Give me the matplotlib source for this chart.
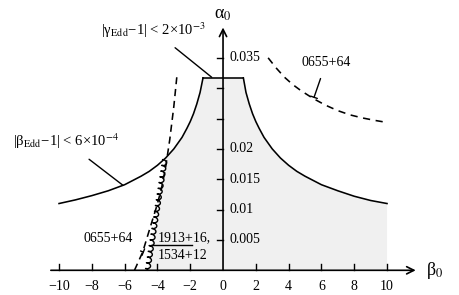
"""
alpha_0 / beta_0 plane: solar-system and binary-pulsar bounds
"""
import numpy as np
import matplotlib.pyplot as plt

plt.rcParams['font.family'] = ['Liberation Serif', 'DejaVu Serif']
plt.rcParams['mathtext.fontset'] = 'stix'

# |beta_Edd - 1| bound, left and right branches
beta_left = [-10, -9, -8, -7, -6, -5, -4.5, -4, -3.5, -3, -2.5, -2.2, -2, -1.8, -1.6, -1.4, -1.22]
alpha_left = [0.0110, 0.0116, 0.0123, 0.0131, 0.0141, 0.0155, 0.0163, 0.0173, 0.0185,
              0.0200, 0.0219, 0.0234, 0.0245, 0.0258, 0.0274, 0.0293, 0.0317]
beta_right = [1.24, 1.4, 1.6, 1.8, 2, 2.2, 2.5, 3, 3.5, 4, 4.5, 5, 6, 7, 8, 9, 10]
alpha_right = [0.0317, 0.0293, 0.0274, 0.0258, 0.0245, 0.0234, 0.0219, 0.0200, 0.0185,
               0.0173, 0.0163, 0.0155, 0.0141, 0.0131, 0.0122, 0.0115, 0.0110]

# |gamma_Edd - 1| bound (plateau)
beta_gamma = [-1.22, 1.24]
alpha_gamma = [0.0317, 0.0317]

# 0655+64 (dashed), two branches
beta_0655_left = [-5.4, -4.9, -4.45, -4.05, -3.75, -3.5, -3.25, -3.0, -2.82]
alpha_0655_left = [0.0, 0.003, 0.007, 0.0105, 0.0135, 0.017, 0.0215, 0.027, 0.0318]
beta_0655_right = [2.75, 3.25, 3.75, 4.25, 4.75, 5.5, 6.25, 7, 7.75, 8.5, 9.25, 9.9]
alpha_0655_right = [0.0350, 0.0333, 0.0318, 0.0306, 0.0296, 0.0283, 0.0272, 0.0263,
                    0.0256, 0.0251, 0.0247, 0.0244]

# 1913+16 / 1534+12 bound (wavy line)
beta_wavy = [-4.6, -3.55]
alpha_wavy = [0.0, 0.0182]

x_ticks = [-10, -8, -6, -4, -2, 2, 4, 6, 8, 10]
x_ticklabels = ['\u221210', '\u22128', '\u22126', '\u22124', '\u22122', '2', '4', '6', '8', '10']
y_ticks = [0.005, 0.01, 0.015, 0.02, 0.025, 0.03, 0.035]
y_ticklabels = ['0.005', '0.01', '0.015', '0.02', '', '', '0.035']

fig = plt.figure(figsize=(4.6, 2.95), dpi=100)
ax = fig.add_axes([0, 0, 1, 1])
ax.set_xlim(-13.6, 14.45)
ax.set_ylim(-0.00407, 0.04453)
ax.axis('off')

lw = 1.15

# shaded allowed region
keep = [i for i, b in enumerate(beta_left) if b > beta_wavy[1]]
poly_b = beta_wavy + [beta_left[i] for i in keep] + beta_right + [beta_right[-1]]
poly_a = alpha_wavy + [alpha_left[i] for i in keep] + alpha_right + [0.0]
ax.fill(poly_b, poly_a, color='#f0f0f0', lw=0, zorder=0)

# bounds
ax.plot(beta_left, alpha_left, color='k', lw=lw)
ax.plot(beta_right, alpha_right, color='k', lw=lw)
ax.plot(beta_gamma, alpha_gamma, color='k', lw=lw)
ax.plot(beta_0655_left, alpha_0655_left, color='k', lw=lw, linestyle=(0, (4.5, 3)))
ax.plot(beta_0655_right, alpha_0655_right, color='k', lw=lw, linestyle=(0, (4.5, 3.5)))

# wavy line, drawn in pixel space so the wiggle stays round
p0 = ax.transData.transform((beta_wavy[0], alpha_wavy[0]))
p1 = ax.transData.transform((beta_wavy[1], alpha_wavy[1]))
d = p1 - p0
length = np.hypot(*d)
normal = np.array([-d[1], d[0]]) / length
t = np.linspace(0, 1, 800)
phase = 2 * np.pi * t * length / 5.8
wig_n = 2.3 * np.sin(phase)
wig_t = 1.2 * np.cos(phase)
pts = p0 + np.outer(t, d) + np.outer(wig_n, normal) + np.outer(wig_t, d / length)
wb, wa = ax.transData.inverted().transform(pts).T
ax.plot(wb, wa, color='k', lw=1.0)

# axes with arrows
arrow = dict(arrowstyle='->', lw=1.2, color='k', mutation_scale=13, shrinkA=0, shrinkB=0)
ax.annotate('', xy=(11.75, 0), xytext=(-10.5, 0), arrowprops=arrow)
ax.annotate('', xy=(0, 0.0400), xytext=(0, 0), arrowprops=arrow)
ax.text(12.9, 0.0, r'β$_0$', fontsize=13, ha='center', va='center')
ax.text(0.0, 0.0422, r'α$_0$', fontsize=13, ha='center', va='center')

for xt, lab in zip(x_ticks, x_ticklabels):
    ax.plot([xt, xt], [0, 0.001], color='k', lw=1.0)
    ax.text(xt, -0.0027, lab, fontsize=10, ha='center', va='center')
ax.text(0, -0.0027, '0', fontsize=10, ha='center', va='center')
for yt, lab in zip(y_ticks, y_ticklabels):
    ax.plot([-0.37, 0], [yt, yt], color='k', lw=1.0)
    if lab:
        ax.text(0.37, yt, lab, fontsize=10, ha='left', va='center')

# labels with pointers
ax.annotate('|γ$_{\\rm Edd}$\u22121| < 2\u00d710$^{-3}$', xy=(-0.69, 0.0318),
            xytext=(-4.27, 0.0396), fontsize=10.5, ha='center', va='center',
            arrowprops=dict(arrowstyle='-', lw=1.0, color='k', shrinkA=6, shrinkB=0))
ax.annotate('|β$_{\\rm Edd}$\u22121| < 6\u00d710$^{-4}$', xy=(-6.1, 0.0140),
            xytext=(-9.57, 0.0212), fontsize=10.5, ha='center', va='center',
            arrowprops=dict(arrowstyle='-', lw=1.0, color='k', shrinkA=6, shrinkB=0))
ax.annotate('0655+64', xy=(5.55, 0.0285), xytext=(6.28, 0.0342), fontsize=10,
            ha='center', va='center',
            arrowprops=dict(arrowstyle='-[, widthB=0.25, lengthB=0', lw=1.0, color='k',
                            shrinkA=5, shrinkB=0))
ax.annotate('0655+64', xy=(-4.86, 0.0030), xytext=(-7.01, 0.0053), fontsize=10,
            ha='center', va='center',
            arrowprops=dict(arrowstyle='-[, widthB=0.25, lengthB=0', lw=1.0, color='k',
                            shrinkA=7, shrinkB=0))
ax.text(-3.96, 0.0054, '1913+16,', fontsize=10, ha='left', va='center')
ax.text(-3.96, 0.0025, '1534+12', fontsize=10, ha='left', va='center')
ax.plot([-4.37, -1.9], [0.0041, 0.0041], color='k', lw=1.0)

fig.savefig('out.png', dpi=100)
